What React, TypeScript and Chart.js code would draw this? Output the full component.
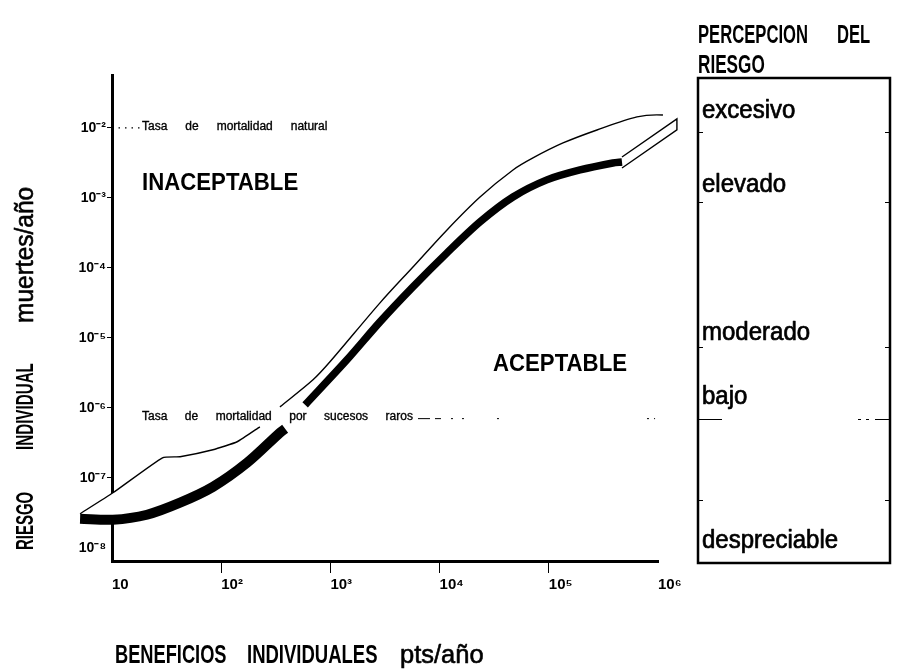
import React, { useEffect, useRef } from 'react';
import { Chart, registerables } from 'chart.js';

Chart.register(...registerables);

// ---- axis ticks ----
const xTicks = [10, 1e2, 1e3, 1e4, 1e5, 1e6];
const xTickLabels = ['10', '10²', '10³', '10⁴', '10⁵', '10⁶'];
const yTicks = [1e-8, 1e-7, 1e-6, 1e-5, 1e-4, 1e-3, 1e-2];
const yTickLabels = ['10⁻⁸', '10⁻⁷', '10⁻⁶', '10⁻⁵', '10⁻⁴', '10⁻³', '10⁻²'];
const xMin = 10;
const xMax = 1e6;
const yMin = Math.pow(10, -8.19);
const yMax = Math.pow(10, -1.243);

// ---- band: upper thin edge (two pieces, broken by the text) ----
const upperLeftX = [5.1, 10.2, 29, 42, 84, 140, 226];
const upperLeftY = [3.06e-8, 6.1e-8, 1.93e-7, 2.0e-7, 2.51e-7, 3.27e-7, 5.35e-7];
const upperRightX = [345, 693, 991, 2845, 5700, 11690, 23440, 47000, 71600, 134900, 276000, 642000, 1.11e6, 1.49e6];
const upperRightY = [1.03e-6, 2.51e-6, 4.54e-6, 3.16e-5, 1.03e-4, 3.49e-4, 1.03e-3, 2.51e-3, 3.73e-3, 6.1e-3, 9.36e-3, 1.44e-2, 1.53e-2, 1.35e-2];

// ---- band: lower thick edge (two pieces) ----
const lowerLeftX = [5.1, 10.2, 20.9, 42, 84, 173, 345, 385];
const lowerLeftY = [2.6e-8, 2.51e-8, 2.96e-8, 4.4e-8, 7.4e-8, 1.64e-7, 4.4e-7, 5.0e-7];
const lowerRightX = [587, 1418, 2845, 5700, 11690, 23440, 47000, 96000, 193000, 386000, 468000];
const lowerRightY = [1.1e-6, 4.85e-6, 1.69e-5, 5.35e-5, 1.64e-4, 4.54e-4, 1.03e-3, 1.81e-3, 2.51e-3, 3.16e-3, 3.27e-3];

// ---- band end cap ----
const capX = [468000, 1.49e6, 1.49e6, 468000];
const capY = [3.85e-3, 1.35e-2, 9.4e-3, 2.68e-3];

// ---- reference rates ----
const naturalRate = 1e-2;
const naturalLineX = [10, 18];
const rareRate = 7e-7;
const rareLineX = [6340, 9.4e5];

// ---- texts ----
const naturalText = ['Tasa', 'de', 'mortalidad', 'natural'];
const rareText = ['Tasa', 'de', 'mortalidad', 'por', 'sucesos', 'raros'];
const riskLevels = ['excesivo', 'elevado', 'moderado', 'bajo', 'despreciable'];
const riskMarks = [8.8e-3, 8.8e-4, 7.4e-6, 4.85e-8];

const FAMILY = "'Liberation Sans', Arial, Helvetica, sans-serif";

const zip = (xs: number[], ys: number[]) => xs.map((x, i) => ({ x, y: ys[i] }));

function txt(ctx: CanvasRenderingContext2D, s: string, x: number, y: number, font: string, sx = 1, rot = false, stroke = 0) {
  ctx.save();
  ctx.translate(x, y);
  if (rot) ctx.rotate(-Math.PI / 2);
  ctx.scale(sx, 1);
  ctx.font = font;
  ctx.textAlign = 'left';
  ctx.textBaseline = 'alphabetic';
  ctx.fillStyle = '#000';
  ctx.fillText(s, 0, 0);
  if (stroke > 0) {
    ctx.lineWidth = stroke;
    ctx.strokeStyle = '#000';
    ctx.lineJoin = 'round';
    ctx.strokeText(s, 0, 0);
  }
  ctx.restore();
}

function spaced(ctx: CanvasRenderingContext2D, words: string[], x: number, y: number, font: string, gap: number) {
  ctx.save();
  ctx.font = font;
  ctx.fillStyle = '#000';
  ctx.strokeStyle = '#000';
  ctx.lineWidth = 0.35;
  ctx.textAlign = 'left';
  ctx.textBaseline = 'alphabetic';
  let cx = x;
  for (const w of words) {
    ctx.fillText(w, cx, y);
    ctx.strokeText(w, cx, y);
    cx += ctx.measureText(w).width + gap;
  }
  ctx.restore();
  return cx - gap;
}

const ribbonFace = {
  id: 'ribbonFace',
  beforeDatasetsDraw(chart: any) {
    const ctx = chart.ctx as CanvasRenderingContext2D;
    const pts = (i: number) => chart.getDatasetMeta(i).data.map((p: any) => [p.x, p.y]);
    const poly = [...pts(0), ...pts(1), ...pts(3).reverse(), ...pts(2).reverse()];
    ctx.save();
    ctx.fillStyle = '#fff';
    ctx.beginPath();
    poly.forEach(([x, y]: number[], i: number) => (i ? ctx.lineTo(x, y) : ctx.moveTo(x, y)));
    ctx.closePath();
    ctx.fill();
    ctx.restore();
  },
};

const annotations = {
  id: 'annotations',
  afterDraw(chart: any) {
    const ctx = chart.ctx as CanvasRenderingContext2D;
    const ys = chart.scales.y;
    const bold = (s: number) => `bold ${s}px ${FAMILY}`;
    const reg = (s: number) => `${s}px ${FAMILY}`;

    // reference texts
    spaced(ctx, naturalText, 142, ys.getPixelForValue(naturalRate) + 2, reg(12), 18);
    spaced(ctx, rareText, 142, ys.getPixelForValue(rareRate) + 1, reg(12), 17.5);

    // region labels
    txt(ctx, 'INACEPTABLE', 142, 190, bold(24), 0.925);
    txt(ctx, 'ACEPTABLE', 493, 371, bold(24), 0.925);

    // y title
    txt(ctx, 'RIESGO', 33, 550, bold(23), 0.65, true);
    txt(ctx, 'INDIVIDUAL', 33, 450, bold(23), 0.66, true);
    txt(ctx, 'muertes/año', 33, 323, reg(25), 0.98, true, 0.6);

    // x title
    txt(ctx, 'BENEFICIOS', 115, 663, bold(25), 0.73);
    txt(ctx, 'INDIVIDUALES', 247, 663, bold(25), 0.74);
    txt(ctx, 'pts/año', 400, 663, reg(26), 0.98, false, 0.6);

    // right panel
    txt(ctx, 'PERCEPCION', 698, 43, bold(26), 0.64);
    txt(ctx, 'DEL', 837, 43, bold(26), 0.64);
    txt(ctx, 'RIESGO', 698, 73, bold(26), 0.66);

    const bx = 698, bt = 78, bw = 192, bh = 485;
    ctx.save();
    ctx.strokeStyle = '#000';
    ctx.lineWidth = 2.5;
    ctx.strokeRect(bx, bt, bw, bh);
    ctx.lineWidth = 1;
    for (const v of riskMarks) {
      const py = Math.round(ys.getPixelForValue(v)) + 0.5;
      ctx.beginPath();
      ctx.moveTo(bx, py); ctx.lineTo(bx + 5, py);
      ctx.moveTo(bx + bw - 5, py); ctx.lineTo(bx + bw, py);
      ctx.stroke();
    }
    const ry = Math.round(ys.getPixelForValue(rareRate)) + 0.5;
    ctx.beginPath();
    ctx.moveTo(bx, ry); ctx.lineTo(bx + 24, ry);
    ctx.moveTo(bx + 160, ry); ctx.lineTo(bx + 163, ry);
    ctx.moveTo(bx + 168, ry); ctx.lineTo(bx + 171, ry);
    ctx.moveTo(bx + 177, ry); ctx.lineTo(bx + bw, ry);
    ctx.stroke();
    ctx.restore();

    const baselines = [118, 192, 340, 404, 548];
    riskLevels.forEach((s, i) => txt(ctx, s, 702, baselines[i], reg(25), 0.96, false, 0.7));
  },
};

const lineDs = (data: any[], width: number, extra: any = {}) => ({
  data,
  showLine: true,
  borderColor: '#000',
  backgroundColor: '#000',
  borderWidth: width,
  pointRadius: 0,
  tension: 0.3,
  clip: false,
  borderCapStyle: 'butt',
  ...extra,
});

export default function App() {
  const ref = useRef<HTMLCanvasElement>(null);
  useEffect(() => {
    const chart = new Chart(ref.current as HTMLCanvasElement, {
      type: 'scatter',
      data: {
        datasets: [
          lineDs(zip(upperLeftX, upperLeftY), 1.4, { tension: 0.15 }),
          lineDs(zip(upperRightX, upperRightY), 1.4),
          lineDs(zip(lowerLeftX, lowerLeftY), 10),
          lineDs(zip(lowerRightX, lowerRightY), 7.5),
          lineDs(zip(capX, capY), 1.4, { tension: 0, borderJoinStyle: 'miter' }),
          lineDs(naturalLineX.map((x) => ({ x, y: naturalRate })), 1.2, { tension: 0, borderDash: [1.5, 5] }),
          lineDs(rareLineX.map((x) => ({ x, y: rareRate })), 1, {
            tension: 0,
            borderDash: [12, 5, 6, 10, 2, 9, 2, 33, 2, 148, 2, 5, 2, 40],
          }),
        ] as any,
      },
      plugins: [ribbonFace, annotations],
      options: {
        animation: false,
        responsive: false,
        devicePixelRatio: 1,
        events: [],
        layout: { padding: { top: 75, right: 239, left: 0, bottom: 0 } },
        plugins: { legend: { display: false }, tooltip: { enabled: false } },
        scales: {
          x: {
            type: 'logarithmic',
            min: xMin,
            max: xMax,
            afterBuildTicks: (s: any) => { s.ticks = xTicks.map((value) => ({ value })); },
            afterFit: (s: any) => { s.height = 108; },
            ticks: {
              callback: (_v: any, i: number) => xTickLabels[i],
              font: { family: FAMILY, size: 15, weight: 'bold' },
              color: '#000',
              align: 'start',
              padding: 3,
              maxRotation: 0,
              autoSkip: false,
            },
            grid: {
              display: true,
              drawOnChartArea: false,
              drawTicks: true,
              tickLength: 12,
              lineWidth: 1,
              color: '#000',
              tickColor: (c: any) => (c.index === 0 || c.index === xTicks.length - 1 ? 'rgba(0,0,0,0)' : '#000'),
            },
            border: { display: true, color: '#000', width: 3 },
          },
          y: {
            type: 'logarithmic',
            min: yMin,
            max: yMax,
            afterBuildTicks: (s: any) => { s.ticks = yTicks.map((value) => ({ value })); },
            afterFit: (s: any) => { s.width = 112; },
            ticks: {
              callback: (_v: any, i: number) => yTickLabels[i],
              font: { family: FAMILY, size: 14, weight: 'bold' },
              color: '#000',
              padding: 1,
              autoSkip: false,
            },
            grid: {
              display: true,
              drawOnChartArea: false,
              drawTicks: true,
              tickLength: 5,
              lineWidth: 1,
              color: '#000',
              tickColor: (c: any) => (c.index === 0 ? 'rgba(0,0,0,0)' : '#000'),
            },
            border: { display: true, color: '#000', width: 3 },
          },
        },
      } as any,
    });
    return () => chart.destroy();
  }, []);
  return (
    <div style={{ position: 'absolute', left: 0, top: 0, width: 897, height: 669, background: '#fff' }}>
      <canvas ref={ref} width={897} height={669} style={{ display: 'block', width: 897, height: 669 }} />
    </div>
  );
}
